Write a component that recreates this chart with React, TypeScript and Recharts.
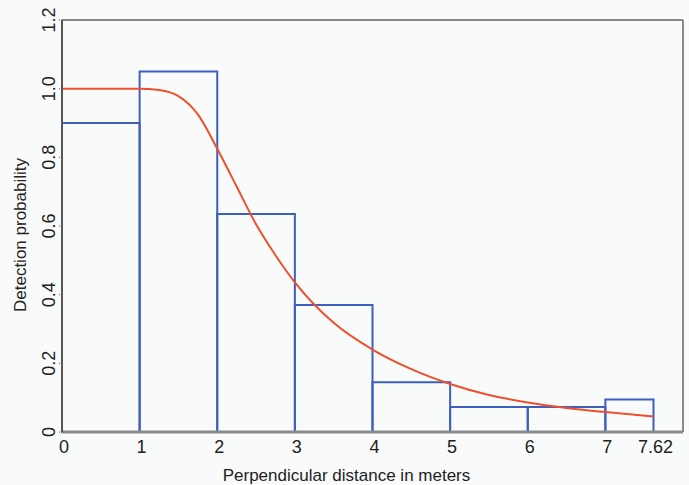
import React from 'react';
import {
  ComposedChart,
  Line,
  XAxis,
  YAxis,
  ReferenceArea,
  ReferenceLine,
  Label,
} from 'recharts';

// histogram bins (scaled detection frequencies)
const binStart = [0, 1, 2, 3, 4, 5, 6, 7];
const binEnd = [1, 2, 3, 4, 5, 6, 7, 7.62];
const binHeight = [0.9, 1.05, 0.635, 0.37, 0.145, 0.073, 0.073, 0.095];

// fitted detection function
const curveX = [0, 0.5, 1, 1.25, 1.5, 1.75, 2, 2.25, 2.5, 2.75, 3, 3.5, 4, 4.5, 5, 5.5, 6, 6.5, 7, 7.62];
const curveY = [1.0, 1.0, 1.0, 0.996, 0.978, 0.925, 0.825, 0.715, 0.605, 0.515, 0.436, 0.318, 0.24, 0.183, 0.14, 0.108, 0.086, 0.07, 0.058, 0.045];

const xTicks = [0, 1, 2, 3, 4, 5, 6, 7, 7.62];
const yTicks = [0, 0.2, 0.4, 0.6, 0.8, 1.0, 1.2];
const yTickLabels = ['0', '0.2', '0.4', '0.6', '0.8', '1.0', '1.2'];

const curveData = curveX.map((x, i) => ({ x, p: curveY[i] }));

const FONT = '"Liberation Sans", Arial, sans-serif';
const BLUE = '#3d5fbf';
const RED = '#ef4f2c';

const YTick = (props: any) => {
  const { x, y, payload } = props;
  const i = yTicks.indexOf(payload.value);
  const tx = x - 2;
  return (
    <text
      x={tx}
      y={y}
      transform={`rotate(-90 ${tx} ${y})`}
      textAnchor="middle"
      fontSize={18}
      fontFamily={FONT}
      fill="#222"
    >
      {i >= 0 ? yTickLabels[i] : payload.value}
    </text>
  );
};

const XTick = (props: any) => {
  const { x, y, payload } = props;
  return (
    <text x={x + 2} y={y + 13} textAnchor="middle" fontSize={18} fontFamily={FONT} fill="#222">
      {payload.value}
    </text>
  );
};

const YTitle = (props: any) => {
  const { viewBox } = props;
  const cx = viewBox.x + 20;
  const cy = viewBox.y + viewBox.height / 2 + 9;
  return (
    <text
      x={cx}
      y={cy}
      transform={`rotate(-90 ${cx} ${cy})`}
      textAnchor="middle"
      dominantBaseline="central"
      fontSize={17}
      fontFamily={FONT}
      fill="#222"
    >
      Detection probability
    </text>
  );
};

export default function App() {
  return (
    <div style={{ position: 'absolute', left: 0, top: 0, width: 689, height: 485, background: '#f9fbfb' }}>
      <ComposedChart
        width={689}
        height={485}
        margin={{ top: 20, right: 6, bottom: 0, left: 0 }}
      >
        <XAxis
          dataKey="x"
          type="number"
          domain={[0, 8]}
          ticks={xTicks}
          interval={0}
          height={53}
          tick={<XTick />}
          tickLine={false}
          axisLine={{ stroke: '#8a8a8a', strokeWidth: 3 }}
          allowDataOverflow
        >
          <Label
            value="Perpendicular distance in meters"
            position="insideBottom"
            offset={4}
            dx={-26}
            style={{ fontSize: 17, fontFamily: FONT, fill: '#222' }}
          />
        </XAxis>
        <YAxis
          type="number"
          domain={[0, 1.2]}
          ticks={yTicks}
          interval={0}
          width={62}
          tick={<YTick />}
          tickSize={3}
          tickLine={{ stroke: '#555', strokeDasharray: '1 1' }}
          axisLine={{ stroke: '#555', strokeWidth: 2 }}
          allowDataOverflow
        >
          <Label content={<YTitle />} />
        </YAxis>
        <ReferenceLine y={1.2} stroke="#8a8a8a" strokeWidth={2} ifOverflow="extendDomain" />
        <ReferenceLine x={8} stroke="#8a8a8a" strokeWidth={2} ifOverflow="extendDomain" />
        {binStart.map((s, i) => (
          <ReferenceArea
            key={`bin-${i}`}
            x1={s}
            x2={binEnd[i]}
            y1={0}
            y2={binHeight[i]}
            fill="none"
            fillOpacity={0}
            stroke={BLUE}
            strokeWidth={2}
            strokeOpacity={1}
          />
        ))}
        <Line
          data={curveData}
          dataKey="p"
          type="monotone"
          stroke={RED}
          strokeWidth={2}
          dot={false}
          activeDot={false}
          isAnimationActive={false}
        />
      </ComposedChart>
    </div>
  );
}
